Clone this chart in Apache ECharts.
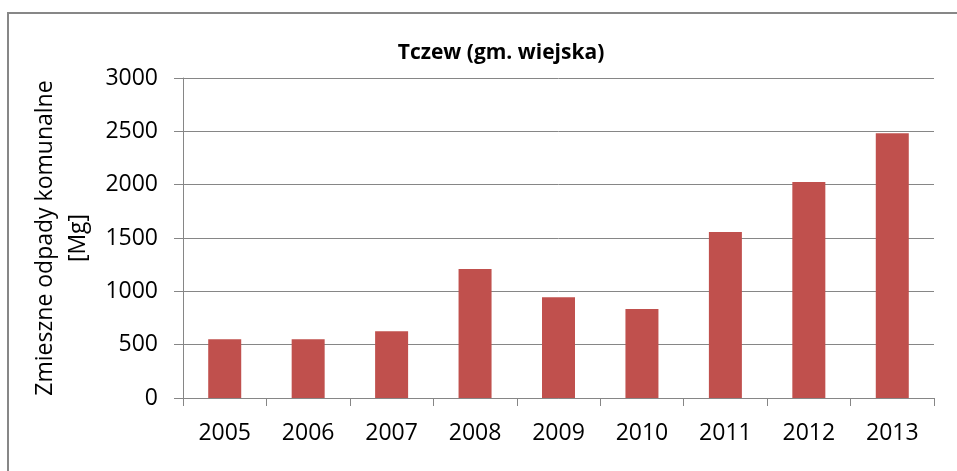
<!DOCTYPE html>
<html>
<head>
<meta charset="utf-8">
<script src="https://cdn.jsdelivr.net/npm/echarts@6/dist/echarts.min.js"></script>
<style>
  html, body { margin: 0; padding: 0; background: #fff; }
  #chart { width: 957px; height: 471px; }
</style>
</head>
<body>
<div id="chart"></div>
<script>
// Mixed municipal waste collected per year, Tczew rural commune
const years = ['2005', '2006', '2007', '2008', '2009', '2010', '2011', '2012', '2013'];
const wasteMg = [551, 551, 625, 1210, 944, 835, 1556, 2026, 2481];
const yTicks = { min: 0, max: 3000, interval: 500 };

const FONT = '"Open Sans", "DejaVu Sans", sans-serif';
const AXIS_GRAY = '#868686';

const chart = echarts.init(document.getElementById('chart'), null, { renderer: 'canvas' });

chart.setOption({
  backgroundColor: '#ffffff',
  animation: false,
  textStyle: { fontFamily: FONT },
  title: {
    text: 'Tczew (gm. wiejska)',
    left: 496,
    top: 38,
    textAlign: 'center',
    textStyle: { fontFamily: FONT, fontSize: 21, fontWeight: 'bold', color: '#000' }
  },
  grid: { left: 183, right: 23, top: 78, bottom: 73, containLabel: false },
  xAxis: {
    type: 'category',
    data: years,
    boundaryGap: true,
    axisLine: { show: true, lineStyle: { color: AXIS_GRAY, width: 1 } },
    axisTick: { show: true, length: 8, inside: false, alignWithLabel: false, lineStyle: { color: AXIS_GRAY } },
    axisLabel: { margin: 24, fontFamily: FONT, fontSize: 23, color: '#000' },
    splitLine: { show: false }
  },
  yAxis: {
    type: 'value',
    min: yTicks.min,
    max: yTicks.max,
    interval: yTicks.interval,
    name: 'Zmieszne odpady komunalne\n[Mg]',
    nameLocation: 'middle',
    nameRotate: 90,
    nameGap: 86,
    nameTextStyle: { fontFamily: FONT, fontSize: 23, color: '#000', lineHeight: 33 },
    axisLine: { show: true, lineStyle: { color: AXIS_GRAY, width: 1 } },
    axisTick: { show: true, length: 9, inside: false, lineStyle: { color: AXIS_GRAY } },
    axisLabel: {
      margin: 25,
      fontFamily: FONT,
      fontSize: 23,
      color: '#000',
      formatter: (v) => String(v)
    },
    splitLine: { show: true, lineStyle: { color: AXIS_GRAY, width: 1 } }
  },
  series: [{
    type: 'bar',
    data: wasteMg,
    barWidth: 33,
    itemStyle: { color: '#C0504D' }
  }],
  graphic: [{
    type: 'rect',
    shape: { x: 8, y: 13, width: 1000, height: 500 },
    style: { fill: 'none', stroke: '#878787', lineWidth: 2 },
    silent: true
  }]
});
</script>
</body>
</html>
